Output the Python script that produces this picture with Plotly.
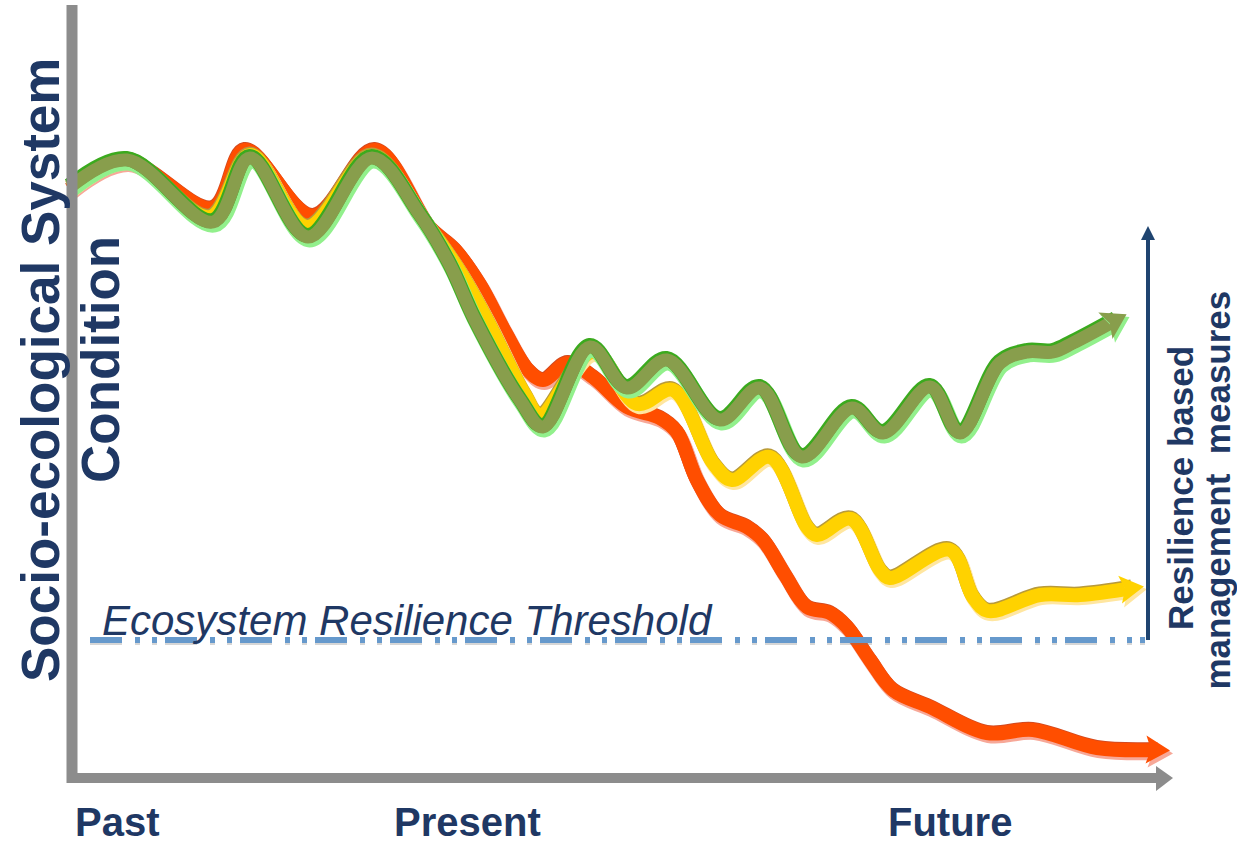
import math
import plotly.graph_objects as go

# ---------------- data (time position, system-condition level) ----------
# y values are measured downward (axis reversed), i.e. smaller = better condition
green_t = [70, 127, 213, 250, 308, 372, 420, 450, 475, 520, 543, 590, 627, 667, 720, 760, 802,
           852, 883, 930, 960, 1000, 1027, 1053, 1073, 1116]
green_c = [187, 160, 222, 158, 237, 158, 215, 265, 320, 400, 427, 347, 388, 360, 420, 388, 457,
           408, 433, 387, 433, 363, 352, 352, 343, 320]

yellow_t = [70, 127, 210, 250, 307, 372, 425, 460, 487, 525, 540, 593, 637, 673, 713, 732, 770,
            807, 817, 851, 880, 890, 950, 973, 988, 1040, 1080, 1132]
yellow_c = [188, 160, 217, 155, 227, 156, 222, 272, 320, 395, 415, 352, 404, 390, 463, 480, 457,
            527, 535, 519, 570, 578, 550, 597, 611, 595, 595, 588]

red_t = [70, 127, 213, 245, 313, 375, 430, 455, 480, 505, 528, 543, 568, 593, 627, 660, 677, 697,
         720, 747, 763, 785, 807, 830, 847, 870, 893, 930, 987, 1033, 1097, 1158]
red_c = [190, 162, 208, 150, 216, 150, 228, 250, 285, 332, 370, 380, 363, 377, 407, 418, 432, 480,
         515, 527, 540, 575, 607, 613, 627, 660, 690, 707, 733, 730, 748, 750]

threshold_level = 640
threshold_span = [90, 1145]
measures_arrow_t = 1148
measures_arrow_span = [640, 226]

time_labels = ["Past", "Present", "Future"]
time_label_pos = [117, 467, 950]
time_label_lvl = [845, 845, 845]

NAVY = "#1F3864"
GRAY = "#8C8C8C"
FONT = "Arial, Liberation Sans, sans-serif"

fig = go.Figure()
shapes = []


def head_path(t, c, dx, dy, fwd, back, half):
    x1, y1, x0, y0 = t[-1], c[-1], t[-2], c[-2]
    L = math.hypot(x1 - x0, y1 - y0)
    ux, uy = (x1 - x0) / L, (y1 - y0) / L
    px, py = -uy, ux
    tip = (x1 + ux * fwd + dx, y1 + uy * fwd + dy)
    bx, by = x1 - ux * back + dx, y1 - uy * back + dy
    a = (bx + px * half, by + py * half)
    b = (bx - px * half, by - py * half)
    notch = (x1 - ux * (back - 5) + dx, y1 - uy * (back - 5) + dy)
    return (f"M {tip[0]:.1f} {tip[1]:.1f} L {a[0]:.1f} {a[1]:.1f} L {notch[0]:.1f} {notch[1]:.1f} "
            f"L {b[0]:.1f} {b[1]:.1f} Z")


def curve(t, c, layers, head_cols, half):
    for dx, dy, col, w in layers:
        fig.add_trace(go.Scatter(
            x=[v + dx for v in t], y=[v + dy for v in c], mode="lines",
            line=dict(color=col, width=w, shape="spline", smoothing=1.0),
            hoverinfo="skip", showlegend=False))
    sdx, sdy = layers[0][0], layers[0][1]
    shapes.append(dict(type="path", xref="x", yref="y",
                       path=head_path(t, c, sdx + 0.5, sdy + 0.5, 13, 12, half + 1),
                       fillcolor=head_cols[0], line=dict(width=0)))
    shapes.append(dict(type="path", xref="x", yref="y", path=head_path(t, c, 0, 0, 12, 12, half),
                       fillcolor=head_cols[1], line=dict(width=0)))


# red (bottom)
curve(red_t, red_c, [(1.5, 2.5, "#F7A898", 15), (-0.5, -1, "#D24A20", 14), (0, 0, "#FF4E00", 14)],
      ("#F7A898", "#FF4E00"), 14)
# yellow
curve(yellow_t, yellow_c, [(1.5, 2.5, "#FFE6A0", 15), (-0.5, -1.5, "#B89A3A", 14),
                           (0, 0, "#FFD200", 14)], ("#FFE6A0", "#FFD200"), 14)
# green (top)
curve(green_t, green_c, [(1.5, 2.5, "#92F08C", 16), (-0.5, -1.5, "#3BAA1E", 15),
                         (0, 0, "#889E4C", 13)], ("#92F08C", "#889E4C"), 15)

# axes (gray bars)
shapes.append(dict(type="line", xref="x", yref="y", x0=72, x1=72, y0=5, y1=783,
                   line=dict(color=GRAY, width=11)))
shapes.append(dict(type="line", xref="x", yref="y", x0=67, x1=1160, y0=778, y1=778,
                   line=dict(color=GRAY, width=10)))
shapes.append(dict(type="path", xref="x", yref="y", path="M 1156 766 L 1173 778 L 1156 791 Z",
                   fillcolor=GRAY, line=dict(width=0)))
# threshold
DASH = "32px,13px,5px,12px,5px,8px"
shapes.append(dict(type="line", xref="x", yref="y", x0=threshold_span[0], x1=threshold_span[1],
                   y0=threshold_level + 2, y1=threshold_level + 2,
                   line=dict(color="rgba(120,120,120,0.3)", width=6, dash=DASH)))
shapes.append(dict(type="line", xref="x", yref="y", x0=threshold_span[0], x1=threshold_span[1],
                   y0=threshold_level, y1=threshold_level,
                   line=dict(color="#6699CC", width=6, dash=DASH)))
# measures arrow
shapes.append(dict(type="line", xref="x", yref="y", x0=measures_arrow_t, x1=measures_arrow_t,
                   y0=measures_arrow_span[0], y1=measures_arrow_span[1] + 10,
                   line=dict(color="#1F4470", width=4)))
shapes.append(dict(type="path", xref="x", yref="y",
                   path=f"M {measures_arrow_t-7} {measures_arrow_span[1]+14} L {measures_arrow_t} "
                        f"{measures_arrow_span[1]} L {measures_arrow_t+7} {measures_arrow_span[1]+14} Z",
                   fillcolor="#1F4470", line=dict(width=0)))

annotations = []
annotations.append(dict(x=100, y=620, xref="x", yref="y", xanchor="left", yanchor="middle",
                        text="<i>Ecosystem Resilience Threshold</i>", showarrow=False,
                        font=dict(family=FONT, size=42, color=NAVY)))
annotations.append(dict(x=40, y=370, xref="x", yref="y", textangle=-90, showarrow=False,
                        text="<b>Socio-ecological System</b>",
                        font=dict(family=FONT, size=53, color=NAVY)))
annotations.append(dict(x=100, y=360, xref="x", yref="y", textangle=-90, showarrow=False,
                        text="<b>Condition</b>", font=dict(family=FONT, size=53, color=NAVY)))
annotations.append(dict(x=1180, y=488, xref="x", yref="y", textangle=-90, showarrow=False,
                        text="<b>Resilience based</b>", font=dict(family=FONT, size=35, color=NAVY)))
annotations.append(dict(x=1237, y=490, xref="x", yref="y", textangle=-90, showarrow=False,
                        xanchor="right", borderpad=0,
                        text="<b>management&nbsp; measures</b>",
                        font=dict(family=FONT, size=35, color=NAVY)))
for lab, p, l in zip(time_labels, time_label_pos, time_label_lvl):
    annotations.append(dict(x=p, y=l, xref="x", yref="y", showarrow=False, yanchor="bottom",
                            borderpad=0, text=f"<b>{lab}</b>",
                            font=dict(family=FONT, size=40, color=NAVY)))

fig.update_layout(
    width=1237, height=845, margin=dict(l=0, r=0, t=0, b=0),
    paper_bgcolor="white", plot_bgcolor="white",
    xaxis=dict(range=[0, 1237], visible=False, fixedrange=True),
    yaxis=dict(range=[845, 0], visible=False, fixedrange=True),
    shapes=shapes, annotations=annotations, showlegend=False,
)
fig.write_html("out.html", config={"displayModeBar": False},
               post_script="document.body.style.margin='0';")
